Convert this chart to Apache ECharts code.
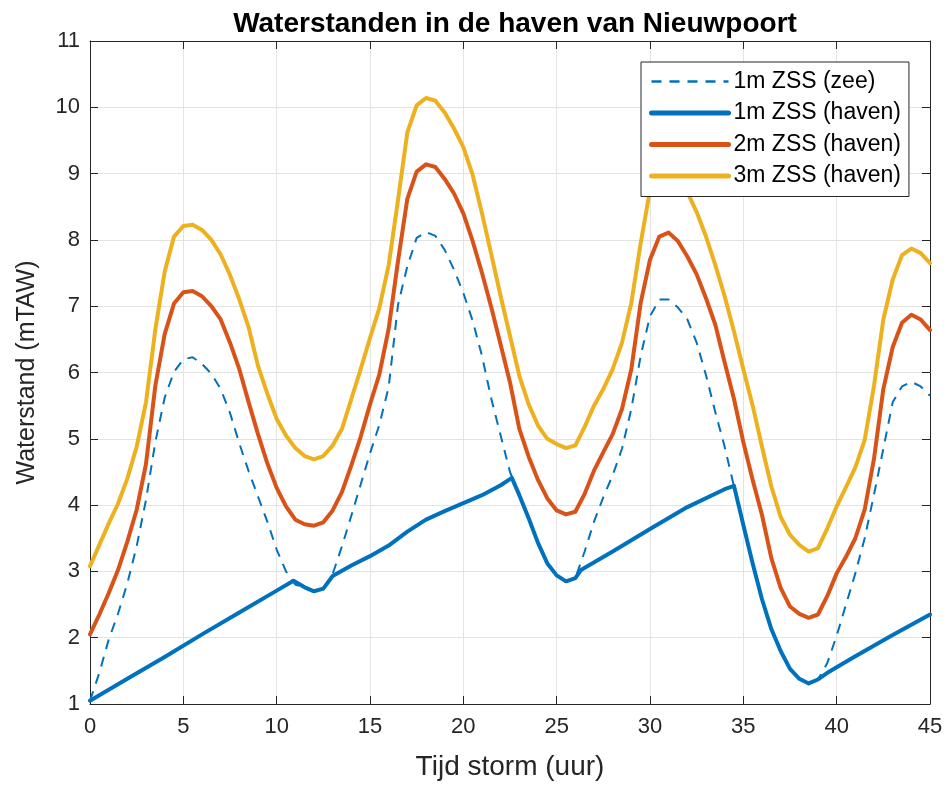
<!DOCTYPE html>
<html>
<head>
<meta charset="utf-8">
<script src="https://cdn.jsdelivr.net/npm/echarts@6/dist/echarts.min.js"></script>
<style>
html,body{margin:0;padding:0;background:#fff;}
#chart{width:949px;height:787px;}
</style>
</head>
<body>
<div id="chart"></div>
<script>
// Time axis (hours) shared by the sampled curves
const hours = [0,0.5,1,1.5,2,2.5,3,3.5,4,4.5,5,5.5,6,6.5,7,7.5,8,8.5,9,9.5,10,10.5,11,11.5,12,12.5,13,13.5,14,14.5,15,15.5,16,16.5,17,17.5,18,18.5,19,19.5,20,20.5,21,21.5,22,22.5,23,23.5,24,24.5,25,25.5,26,26.5,27,27.5,28,28.5,29,29.5,30,30.5,31,31.5,32,32.5,33,33.5,34,34.5,35,35.5,36,36.5,37,37.5,38,38.5,39,39.5,40,40.5,41,41.5,42,42.5,43,43.5,44,44.5,45];

// 1m ZSS (zee) - dashed
const zee1m = [1.05,1.47,1.97,2.36,2.82,3.38,4.08,4.95,5.62,6.01,6.20,6.23,6.13,5.98,5.75,5.39,4.93,4.51,4.13,3.75,3.33,3.00,2.80,2.75,2.70,2.74,2.96,3.38,3.84,4.31,4.78,5.21,5.78,7.02,7.60,8.03,8.12,8.06,7.85,7.55,7.20,6.78,6.25,5.60,5.05,4.50,4.15,3.80,3.43,3.12,2.94,2.85,2.90,3.30,3.75,4.12,4.45,4.85,5.45,6.25,6.85,7.10,7.10,6.98,6.80,6.45,5.96,5.40,4.88,4.28,3.70,3.12,2.58,2.13,1.80,1.53,1.38,1.31,1.37,1.62,2.03,2.50,2.97,3.50,4.16,4.85,5.55,5.79,5.86,5.79,5.65];

// 2m ZSS (haven)
const haven2m = [2.05,2.35,2.67,3.02,3.45,3.93,4.62,5.80,6.58,7.04,7.21,7.23,7.15,7.00,6.80,6.45,6.05,5.55,5.07,4.63,4.26,3.98,3.78,3.71,3.69,3.74,3.92,4.20,4.60,5.03,5.52,5.97,6.66,7.68,8.62,9.03,9.14,9.10,8.92,8.70,8.40,7.98,7.50,6.98,6.42,5.85,5.15,4.73,4.38,4.10,3.92,3.86,3.90,4.17,4.52,4.80,5.07,5.45,6.05,7.05,7.70,8.05,8.11,7.98,7.75,7.48,7.12,6.72,6.15,5.60,4.95,4.38,3.85,3.20,2.75,2.47,2.36,2.30,2.35,2.63,2.97,3.22,3.50,3.93,4.70,5.75,6.38,6.75,6.87,6.80,6.64];

// 3m ZSS (haven)
const haven3m = [3.08,3.40,3.72,4.02,4.40,4.88,5.55,6.65,7.52,8.05,8.21,8.23,8.15,8.00,7.78,7.47,7.10,6.68,6.10,5.68,5.30,5.05,4.86,4.74,4.69,4.74,4.90,5.15,5.60,6.05,6.52,6.97,7.62,8.60,9.62,10.03,10.14,10.10,9.92,9.68,9.40,8.98,8.40,7.78,7.15,6.55,5.95,5.52,5.20,5.00,4.92,4.86,4.90,5.18,5.50,5.75,6.05,6.45,7.05,7.95,8.75,9.02,9.10,9.00,8.72,8.42,8.05,7.62,7.15,6.62,6.05,5.50,4.88,4.28,3.82,3.55,3.40,3.30,3.35,3.65,3.98,4.27,4.57,4.98,5.80,6.80,7.40,7.77,7.87,7.80,7.65];

// 1m ZSS (haven) - own time samples
const haven1mHours = [0,2,4,6,8,10,10.9,11.5,12,12.5,13,14,15,16,17,18,19,20,21,22,22.6,23,23.5,24,24.5,25,25.5,26,26.3,28,30,32,34,34.5,35,35.5,36,36.5,37,37.5,38,38.5,39,39.5,41,43,45];
const haven1m = [1.05,1.38,1.71,2.05,2.38,2.71,2.86,2.76,2.70,2.74,2.93,3.09,3.23,3.39,3.60,3.78,3.91,4.03,4.15,4.30,4.41,4.15,3.80,3.43,3.12,2.94,2.85,2.90,3.02,3.30,3.64,3.97,4.24,4.29,3.70,3.12,2.58,2.13,1.80,1.53,1.38,1.31,1.37,1.47,1.72,2.04,2.35];

// Labels
const titleText = 'Waterstanden in de haven van Nieuwpoort';
const xName = 'Tijd storm (uur)';
const yName = 'Waterstand (mTAW)';
const seriesNames = ['1m ZSS (zee)', '1m ZSS (haven)', '2m ZSS (haven)', '3m ZSS (haven)'];

const FONT = '"Liberation Sans", Arial, Helvetica, sans-serif';
const AX = '#262626';
const DASH = [10, 8];
const zip = (xs, ys) => xs.map((x, i) => [x, ys[i]]);

const chart = echarts.init(document.getElementById('chart'), null, {renderer: 'canvas'});

const baseX = {
  type: 'value', min: 0, max: 45, interval: 5,
  axisLine: {show: true, onZero: false, lineStyle: {color: AX, width: 1}},
  axisTick: {show: true, inside: true, length: 8, lineStyle: {color: AX}},
};
const baseY = {
  type: 'value', min: 1, max: 11, interval: 1,
  axisLine: {show: true, onZero: false, lineStyle: {color: AX, width: 1}},
  axisTick: {show: true, inside: true, length: 8, lineStyle: {color: AX}},
};

chart.setOption({
  animation: false,
  backgroundColor: '#fff',
  title: {
    text: titleText, left: 510, top: 5, textAlign: 'center',
    textStyle: {fontFamily: FONT, fontSize: 28, fontWeight: 'bold', color: '#000'}
  },
  grid: {left: 90, right: 19, top: 41, bottom: 83, containLabel: false},
  legend: {
    orient: 'vertical', left: 641, top: 62, z: 10,
    itemWidth: 77, itemHeight: 14, itemGap: 8.5,
    padding: [8, 8, 9, 8],
    borderColor: AX, borderWidth: 1, backgroundColor: '#fff',
    itemStyle: {opacity: 0},
    lineStyle: {width: 5},
    textStyle: {fontFamily: FONT, fontSize: 23, color: '#000'},
    data: [
      {name: seriesNames[0], itemStyle: {opacity: 0}, lineStyle: {width: 2.5, type: DASH}},
      {name: seriesNames[1], itemStyle: {opacity: 0}, lineStyle: {width: 5}},
      {name: seriesNames[2], itemStyle: {opacity: 0}, lineStyle: {width: 5}},
      {name: seriesNames[3], itemStyle: {opacity: 0}, lineStyle: {width: 5}}
    ]
  },
  xAxis: [
    Object.assign({}, baseX, {
      position: 'bottom',
      name: xName, nameLocation: 'middle', nameGap: 49,
      nameTextStyle: {fontFamily: FONT, fontSize: 28, color: AX},
      axisLabel: {fontFamily: FONT, fontSize: 22, color: AX, margin: 12},
      splitLine: {show: true, lineStyle: {color: '#e3e3e3', width: 1}}
    }),
    Object.assign({}, baseX, {
      position: 'top', axisLabel: {show: false}, splitLine: {show: false}
    })
  ],
  yAxis: [
    Object.assign({}, baseY, {
      position: 'left',
      name: yName, nameLocation: 'middle', nameGap: 50, nameRotate: 90,
      nameTextStyle: {fontFamily: FONT, fontSize: 25, color: AX},
      axisLabel: {fontFamily: FONT, fontSize: 22, color: AX, margin: 10},
      splitLine: {show: true, lineStyle: {color: '#e3e3e3', width: 1}}
    }),
    Object.assign({}, baseY, {
      position: 'right', axisLabel: {show: false}, splitLine: {show: false}
    })
  ],
  series: [
    {
      name: seriesNames[0], type: 'line', xAxisIndex: 0, yAxisIndex: 0,
      data: zip(hours, zee1m), symbol: 'none', showSymbol: false,
      lineStyle: {color: '#0072BD', width: 2, type: DASH},
      itemStyle: {color: '#0072BD'}, z: 2
    },
    {
      name: seriesNames[1], type: 'line', xAxisIndex: 0, yAxisIndex: 0,
      data: zip(haven1mHours, haven1m), symbol: 'none', showSymbol: false,
      lineStyle: {color: '#0072BD', width: 4, cap: 'round', join: 'round'},
      itemStyle: {color: '#0072BD'}, z: 2
    },
    {
      name: seriesNames[2], type: 'line', xAxisIndex: 0, yAxisIndex: 0,
      data: zip(hours, haven2m), symbol: 'none', showSymbol: false,
      lineStyle: {color: '#D95319', width: 4, cap: 'round', join: 'round'},
      itemStyle: {color: '#D95319'}, z: 2
    },
    {
      name: seriesNames[3], type: 'line', xAxisIndex: 0, yAxisIndex: 0,
      data: zip(hours, haven3m), symbol: 'none', showSymbol: false,
      lineStyle: {color: '#EDB120', width: 4, cap: 'round', join: 'round'},
      itemStyle: {color: '#EDB120'}, z: 2
    }
  ]
});
</script>
</body>
</html>
